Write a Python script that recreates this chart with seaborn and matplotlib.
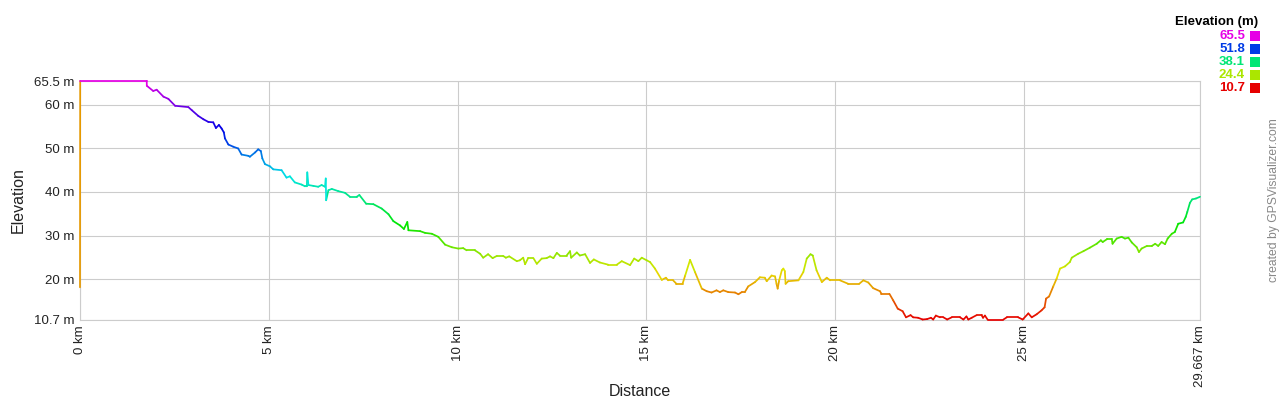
import numpy as np
import pandas as pd
import matplotlib
matplotlib.use("Agg")
import matplotlib.pyplot as plt
import matplotlib.colors as mcolors
from matplotlib.patches import Rectangle
import seaborn as sns

# ---- data ----
distance_km = [
    0.0, 0.005, 1.767, 1.77, 1.94, 2.03, 2.21, 2.34, 2.52, 2.87, 2.96, 3.13, 3.27, 3.40, 3.53, 3.60,
    3.68, 3.75, 3.81, 3.84, 3.93, 4.06, 4.19, 4.28, 4.46, 4.50, 4.64, 4.72, 4.79, 4.83, 4.90, 5.03,
    5.12, 5.34, 5.47, 5.56, 5.69, 5.87, 5.96, 6.01, 6.02, 6.05, 6.18, 6.31, 6.40, 6.49, 6.51, 6.52,
    6.58, 6.67, 6.84, 7.02, 7.15, 7.33, 7.40, 7.58, 7.77, 7.99, 8.17, 8.30, 8.48, 8.58, 8.67, 8.70,
    9.01, 9.14, 9.32, 9.49, 9.67, 9.85, 10.02, 10.15, 10.24, 10.46, 10.60, 10.68, 10.81, 10.93, 11.04,
    11.21, 11.28, 11.37, 11.57, 11.65, 11.74, 11.79, 11.87, 12.01, 12.10, 12.23, 12.36, 12.45, 12.54,
    12.63, 12.71, 12.89, 12.98, 13.01, 13.16, 13.24, 13.38, 13.51, 13.61, 13.77, 13.99, 14.22, 14.35,
    14.57, 14.68, 14.79, 14.88, 15.01, 15.10, 15.23, 15.41, 15.52, 15.58, 15.71, 15.80, 15.96, 16.03,
    16.16, 16.29, 16.47, 16.60, 16.73, 16.86, 16.95, 17.04, 17.17, 17.35, 17.44, 17.53, 17.61, 17.70,
    17.88, 18.01, 18.14, 18.19, 18.32, 18.41, 18.45, 18.48, 18.52, 18.59, 18.63, 18.67, 18.69, 18.76,
    19.03, 19.16, 19.25, 19.35, 19.41, 19.51, 19.65, 19.78, 19.87, 20.13, 20.35, 20.64, 20.75, 20.88,
    21.01, 21.19, 21.23, 21.44, 21.54, 21.66, 21.79, 21.88, 22.00, 22.07, 22.20, 22.32, 22.44, 22.54,
    22.60, 22.67, 22.78, 22.87, 22.97, 23.09, 23.31, 23.40, 23.48, 23.53, 23.62, 23.75, 23.88, 23.92,
    23.97, 24.04, 24.46, 24.55, 24.85, 24.97, 25.12, 25.21, 25.34, 25.47, 25.55, 25.59, 25.67, 25.78,
    25.87, 25.96, 26.09, 26.22, 26.27, 26.44, 26.58, 26.75, 26.93, 27.04, 27.09, 27.21, 27.33, 27.35,
    27.46, 27.59, 27.68, 27.77, 27.86, 27.99, 28.05, 28.12, 28.26, 28.39, 28.48, 28.56, 28.65, 28.74,
    28.81, 28.92, 29.00, 29.09, 29.22, 29.29, 29.33, 29.40, 29.46, 29.56, 29.667,
]
elevation_m = [
    18.1, 65.5, 65.5, 64.4, 63.2, 63.5, 61.9, 61.4, 59.8, 59.5, 58.8, 57.5, 56.7, 56.1, 56.0, 54.7,
    55.4, 54.6, 53.7, 52.3, 50.9, 50.4, 50.0, 48.6, 48.3, 48.1, 49.1, 49.8, 49.4, 47.7, 46.4, 45.9,
    45.2, 45.0, 43.3, 43.6, 42.2, 41.7, 41.3, 41.3, 44.5, 41.6, 41.4, 41.2, 41.6, 41.2, 43.1, 38.1,
    40.4, 40.7, 40.2, 39.8, 38.9, 38.9, 39.3, 37.3, 37.2, 36.2, 34.9, 33.3, 32.3, 31.5, 33.1, 31.2,
    31.0, 30.6, 30.4, 29.7, 27.9, 27.3, 27.0, 27.1, 26.6, 26.6, 25.8, 24.9, 25.7, 24.8, 25.3,
    25.3, 24.9, 25.2, 24.1, 24.3, 24.9, 23.4, 24.8, 24.8, 23.5, 24.7, 24.8, 25.2, 24.8,
    26.0, 25.4, 25.4, 26.4, 24.9, 26.1, 25.4, 25.7, 23.7, 24.5, 23.8, 23.3, 23.3, 24.1,
    23.2, 24.7, 24.1, 24.9, 24.3, 23.9, 22.4, 19.8, 20.3, 19.7, 19.7, 18.9, 18.9, 20.8,
    24.4, 21.6, 17.8, 17.2, 16.9, 17.4, 17.0, 17.4, 17.0, 16.9, 16.5, 17.0, 17.0, 18.3,
    19.3, 20.4, 20.3, 19.5, 20.8, 20.6, 18.9, 17.8, 19.7, 22.0, 22.4, 21.8, 18.9, 19.5,
    19.7, 21.6, 24.7, 25.7, 25.4, 22.0, 19.3, 20.3, 19.7, 19.7, 18.9, 18.9, 19.7, 19.2,
    17.9, 17.2, 16.6, 16.6, 15.1, 13.2, 12.6, 11.2, 11.7, 11.2, 11.1, 10.7, 10.8, 11.1,
    10.7, 11.6, 11.2, 11.2, 10.7, 11.2, 11.2, 10.7, 11.4, 10.7, 11.1, 11.7, 11.7, 11.1,
    11.6, 10.7, 10.7, 11.2, 11.2, 10.7, 12.1, 11.2, 11.9, 12.8, 13.5, 15.5, 16.0, 18.3,
    20.1, 22.4, 22.9, 23.9, 24.9, 25.8, 26.4, 27.2, 28.1, 28.9, 28.5, 29.2, 29.2, 28.1,
    29.3, 29.7, 29.3, 29.5, 28.4, 27.3, 26.2, 27.0, 27.6, 27.6, 28.1, 27.6, 28.5, 28.0,
    29.3, 30.4, 30.8, 32.7, 33.0, 34.3, 35.4, 37.5, 38.3, 38.5, 38.9,
]
y_ticks = [10.7, 20, 30, 40, 50, 60, 65.5]
y_tick_labels = ["10.7 m", "20 m", "30 m", "40 m", "50 m", "60 m", "65.5 m"]
x_ticks = [0, 5, 10, 15, 20, 25, 29.667]
x_tick_labels = ["0 km", "5 km", "10 km", "15 km", "20 km", "25 km", "29.667 km"]
legend_values = [65.5, 51.8, 38.1, 24.4, 10.7]

ELEV_MIN, ELEV_MAX = 10.7, 65.5
KM_MAX = 29.667

# ---- colour scale: hue rotates red -> yellow -> green -> blue -> magenta ----
hues = np.linspace(0, 300 / 360, 256)
hsv = np.stack([hues, np.ones_like(hues), np.full_like(hues, 0.90)], axis=1)
cmap = mcolors.LinearSegmentedColormap.from_list("elev", mcolors.hsv_to_rgb(hsv))
norm = mcolors.Normalize(ELEV_MIN, ELEV_MAX)

# ---- segment table so each piece of the profile gets its own colour ----
rows = []
for i in range(len(distance_km) - 1):
    x0, x1 = distance_km[i], distance_km[i + 1]
    y0, y1 = elevation_m[i], elevation_m[i + 1]
    c = y0 if (x1 - x0) < 0.01 else 0.5 * (y0 + y1)
    rows.append((i, x0, y0, c))
    rows.append((i, x1, y1, c))
df = pd.DataFrame(rows, columns=["seg", "km", "m", "c"])

sns.set_style("white")
plt.rcParams["font.family"] = ["Liberation Sans", "DejaVu Sans"]

fig = plt.figure(figsize=(12.8, 4.0), dpi=100)
ax = fig.add_axes([80 / 1280, 1 - 319.5 / 400, 1120 / 1280, 238.5 / 400])

sns.lineplot(data=df, x="km", y="m", hue="c", units="seg", estimator=None,
             palette=cmap, hue_norm=norm, legend=False, sort=False,
             linewidth=1.25, solid_capstyle="round", clip_on=False, ax=ax, zorder=3)

ax.set_xlim(0, KM_MAX)
ax.set_ylim(ELEV_MIN, ELEV_MAX)
ax.set_xticks(x_ticks)
ax.set_xticklabels(x_tick_labels, rotation=90, fontsize=9.5, color="#222222")
ax.set_yticks(y_ticks)
ax.set_yticklabels(y_tick_labels, fontsize=9.5, color="#222222")
ax.tick_params(axis="both", length=0, pad=4)
ax.grid(True, color="#cccccc", linewidth=0.8, zorder=0)
for s in ax.spines.values():
    s.set_color("#cccccc")
    s.set_linewidth(0.8)
    s.set_zorder(1)

ax.set_xlabel("Distance", fontsize=11.5, color="#222222")
ax.set_ylabel("Elevation", fontsize=11.5, color="#222222")
ax.xaxis.label.set_va("center")
ax.yaxis.label.set_va("center")
ax.xaxis.set_label_coords(0.5, -(392 - 319.5) / 238.5)
ax.yaxis.set_label_coords((18 - 80) / 1120, 0.5)

# ---- legend (top right) ----
fig.text(1258 / 1280, 1 - 22 / 400, "Elevation (m)", ha="right", va="center",
         fontsize=9.5, fontweight="bold", color="#000000")
leg_y = [36, 49, 62, 75, 88]
for v, yp in zip(legend_values, leg_y):
    col = cmap(norm(v))
    fig.text(1245 / 1280, 1 - yp / 400, f"{v:.1f}", ha="right", va="center",
             fontsize=9.5, fontweight="bold", color=col)
    fig.add_artist(Rectangle((1250 / 1280, 1 - (yp + 5) / 400), 10 / 1280, 10 / 400,
                             transform=fig.transFigure, facecolor=col, edgecolor="none"))

fig.text(1274 / 1280, 1 - 200 / 400, "created by GPSVisualizer.com", rotation=90,
         ha="center", va="center", fontsize=8.7, color="#888888")

fig.savefig("out.png", dpi=100)
